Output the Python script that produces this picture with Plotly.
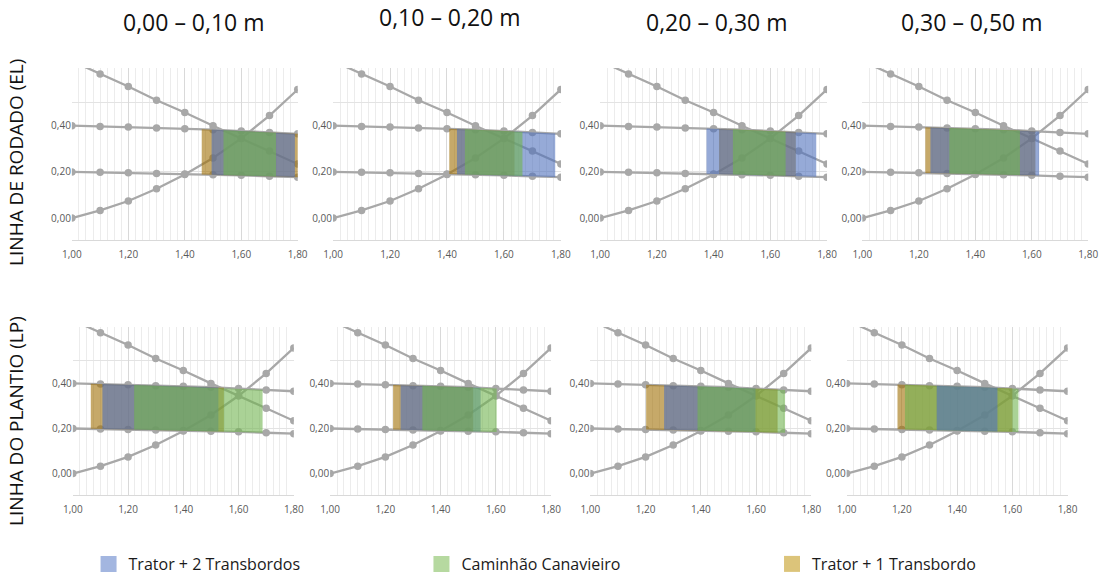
import numpy as np
import plotly.graph_objects as go

# ---------------- data ----------------
x_pts = [1.0, 1.1, 1.2, 1.3, 1.4, 1.5, 1.6, 1.7, 1.8]
curve_desc = [0.680, 0.624, 0.570, 0.510, 0.457, 0.400, 0.345, 0.290, 0.234]
curve_upper = [0.400, 0.397, 0.394, 0.390, 0.387, 0.383, 0.377, 0.371, 0.365]
curve_lower = [0.200, 0.198, 0.196, 0.193, 0.191, 0.188, 0.185, 0.181, 0.177]
curve_asc = [0.000, 0.033, 0.074, 0.127, 0.189, 0.260, 0.345, 0.444, 0.557]

depth_labels = ["0,00 – 0,10 m", "0,10 – 0,20 m", "0,20 – 0,30 m", "0,30 – 0,50 m"]
row_labels = ["LINHA DE RODADO (EL)", "LINHA DO PLANTIO (LP)"]
machines = ["Trator + 2 Transbordos", "Caminhão Canavieiro", "Trator + 1 Transbordo"]

# ranges per panel: EL (4 depths) then LP (4 depths)
range_t2 = [[1.495, 1.790], [1.435, 1.780], [1.375, 1.762], [1.241, 1.626],
            [1.107, 1.527], [1.255, 1.545], [1.267, 1.598], [1.326, 1.546]]
range_cc = [[1.537, 1.723], [1.463, 1.665], [1.468, 1.654], [1.308, 1.558],
            [1.222, 1.687], [1.334, 1.603], [1.388, 1.705], [1.211, 1.622]]
range_t1 = [[1.460, 1.805], [1.408, 1.637], [1.419, 1.690], [1.223, 1.613],
            [1.065, 1.547], [1.228, 1.518], [1.202, 1.678], [1.184, 1.600]]

x_ticks = [1.0, 1.2, 1.4, 1.6, 1.8]
y_ticks = [0.0, 0.2, 0.4]

# ---------------- styles ----------------
W, H = 1111, 581
panel_px = [  # (left, right, top, bottom) in pixels
    (63, 293, 68, 240), (329, 561, 68, 240), (601, 832, 68, 240), (868, 1098, 68, 240),
    (64, 289, 327, 495), (326, 551, 327, 495), (591, 816, 327, 495), (852, 1077, 327, 495),
]
fills = {
    "t2": "rgba(80,113,188,0.6)",
    "cc": "rgba(113,180,80,0.6)",
    "t1": "rgba(160,112,5,0.6)",
}
legend_cols = {"t2": "#a3b6e0", "cc": "#b6d9a0", "t1": "#dcc47a"}
keys = ["t2", "cc", "t1"]
names = dict(zip(keys, machines))
ranges = {"t2": range_t2, "cc": range_cc, "t1": range_t1}
legend_ids = {"t2": "legend", "cc": "legend2", "t1": "legend3"}
legend_pos = {"legend": (80, 0), "legend2": (419, 0), "legend3": (776, 0)}
layer_order = [["t1", "t2", "cc"]] * 7 + [["t1", "cc", "t2"]]
line_col = "#a8a8a8"
FONT = "Open Sans"

fig = go.Figure()

for i in range(8):
    ax = "" if i == 0 else str(i + 1)
    xa, ya = "x" + ax, "y" + ax
    for c in [curve_desc, curve_upper, curve_lower, curve_asc]:
        fig.add_trace(go.Scatter(
            x=x_pts, y=c, xaxis=xa, yaxis=ya, mode="lines+markers",
            line=dict(color=line_col, width=2.3),
            marker=dict(color=line_col, size=7.5),
            showlegend=False, hoverinfo="skip"))
    for key in layer_order[i]:
        x0, x1 = ranges[key][i]
        top0, top1 = np.interp([x0, x1], x_pts, curve_upper)
        bot0, bot1 = np.interp([x0, x1], x_pts, curve_lower)
        fig.add_trace(go.Scatter(
            x=[x0, x1, x1, x0, x0], y=[top0, top1, bot1, bot0, top0],
            xaxis=xa, yaxis=ya, mode="lines", fill="toself",
            fillcolor=fills[key], line=dict(width=0),
            name=names[key], showlegend=False, hoverinfo="skip"))

# legend entries (one legend box per machine)
for key in keys:
    fig.add_trace(go.Scatter(
        x=[None], y=[None], mode="markers", name=names[key],
        marker=dict(symbol="square", size=16, color=legend_cols[key]),
        showlegend=True, legend=legend_ids[key], hoverinfo="skip"))

layout = dict(
    width=W, height=H, margin=dict(l=0, r=0, t=0, b=0),
    paper_bgcolor="white", plot_bgcolor="white",
    separators=", ",
    font=dict(family=FONT, color="#595959", size=10),
    showlegend=True,
)
for lid, (lx, ly) in legend_pos.items():
    layout[lid] = dict(orientation="h", x=lx / W, xanchor="left", y=ly, yanchor="bottom",
                       font=dict(family=FONT, size=16, color="#1a1a1a"),
                       bgcolor="rgba(0,0,0,0)", borderwidth=0)

for i, (l, r, t, b) in enumerate(panel_px):
    ax = "" if i == 0 else str(i + 1)
    layout["xaxis" + ax] = dict(
        domain=[l / W, r / W], range=[1.0, 1.8], anchor="y" + ax,
        tickvals=x_ticks, tickformat=".2f", ticks="", ticklabelstandoff=5,
        showgrid=True, gridcolor="#d9d9d9", gridwidth=1,
        minor=dict(dtick=0.025, showgrid=True, gridcolor="#ececec", gridwidth=1),
        showline=True, linecolor="#d9d9d9", zeroline=False,
        tickfont=dict(size=10, color="#595959"))
    layout["yaxis" + ax] = dict(
        domain=[1 - b / H, 1 - t / H], range=[-0.095, 0.65], anchor="x" + ax,
        tickvals=y_ticks, tickformat=".2f", ticks="",
        showgrid=False, zeroline=False, showline=False,
        minor=dict(tickvals=[0.2, 0.5], showgrid=True, gridcolor="#e3e3e3", gridwidth=1),
        tickfont=dict(size=10, color="#595959"))

annotations = []
title_pos = [(187, 22), (448, 17), (720, 22), (980, 22)]
for lbl, (cx, cy) in zip(depth_labels, title_pos):
    annotations.append(dict(text=lbl, xref="paper", yref="paper", x=cx / W, y=1 - cy / H,
                            xanchor="center", yanchor="middle", showarrow=False,
                            font=dict(family=FONT, size=23, color="#111111")))
for lbl, cy in zip(row_labels, [162, 421]):
    annotations.append(dict(text=lbl, xref="paper", yref="paper", x=6 / W, y=1 - cy / H,
                            xanchor="center", yanchor="middle", showarrow=False, textangle=-90,
                            font=dict(family=FONT, size=19, color="#111111")))
layout["annotations"] = annotations

fig.update_layout(**layout)
fig.write_html("out.html", config={"displayModeBar": False},
               post_script="document.body.style.margin='0';document.body.style.overflow='hidden';")
